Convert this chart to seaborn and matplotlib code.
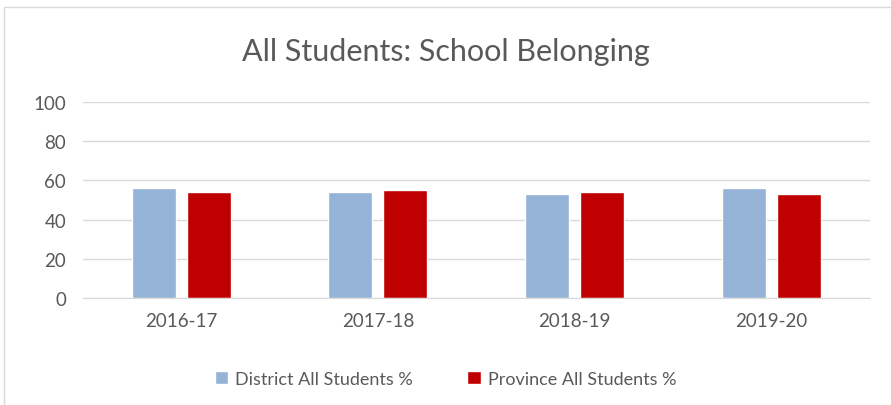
import pandas as pd
import matplotlib.pyplot as plt
import seaborn as sb
from matplotlib.patches import Rectangle

# dati
years = ['2016-17', '2017-18', '2018-19', '2019-20']
district = [56, 54, 53, 56]
province = [54, 55, 54, 53]
series_names = ['District All Students %', 'Province All Students %']
colors = ['#95B3D7', '#C00000']

df = pd.DataFrame({
    'year': years * 2,
    'value': district + province,
    'series': [series_names[0]] * 4 + [series_names[1]] * 4,
})

sb.set_style('white')
plt.rcParams['font.family'] = ['Lato', 'DejaVu Sans']

fig = plt.figure(figsize=(8.91, 4.06), dpi=100)
ax = fig.add_axes([0.093, 0.2635, 0.883, 0.4825])

sb.barplot(data=df, x='year', y='value', hue='series', palette=colors,
           width=0.56, gap=0.2, saturation=1, ax=ax, legend=True)

ax.set_ylim(0, 100)
ax.set_yticks(range(0, 101, 20))
ax.yaxis.grid(True, color='#D9D9D9', linewidth=1)
ax.set_axisbelow(True)
ax.set_xlabel('')
ax.set_ylabel('')
for s in ['top', 'right', 'left']:
    ax.spines[s].set_visible(False)
ax.spines['bottom'].set_color('#D9D9D9')
ax.tick_params(axis='both', length=0, labelsize=13.5, colors='#595959', pad=10)
ax.tick_params(axis='y', pad=12)

fig.text(0.5, 0.873, 'All Students: School Belonging', ha='center', va='center',
         fontsize=22, color='#595959')

handles, labels = ax.get_legend_handles_labels()
ax.legend_.remove()
fig.legend(handles, labels, loc='center', bbox_to_anchor=(0.5, 0.065), ncol=2,
           frameon=False, fontsize=13, labelcolor='#595959', handlelength=0.75,
           handleheight=0.75, handletextpad=0.4, columnspacing=3)

fig.patches.append(Rectangle((4 / 891, -0.1), 1.2, 1 - 8 / 406 + 0.1,
                             transform=fig.transFigure, fill=False,
                             edgecolor='#D9D9D9', linewidth=1))

fig.savefig('out.png', dpi=100)
